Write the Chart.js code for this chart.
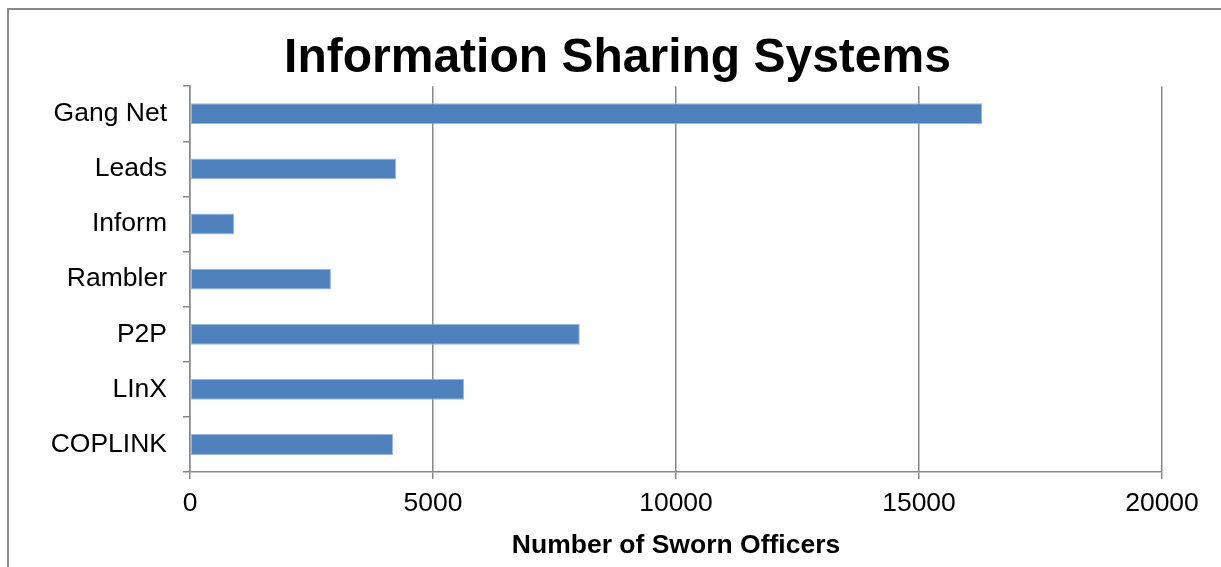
<!DOCTYPE html>
<html>
<head>
<meta charset="utf-8">
<script src="https://cdn.jsdelivr.net/npm/chart.js@4"></script>
<style>
  html, body { margin: 0; padding: 0; background: #fff; }
  #wrap { position: relative; width: 1221px; height: 567px; }
  canvas { display: block; }
</style>
</head>
<body>
<div id="wrap"><canvas id="c" width="1221" height="567"></canvas></div>
<script>
const categories = ["Gang Net", "Leads", "Inform", "Rambler", "P2P", "LInX", "COPLINK"];
const officers = [16300, 4240, 910, 2900, 8020, 5640, 4180];
const xTicks = [0, 5000, 10000, 15000, 20000];
const chartTitle = "Information Sharing Systems";
const xAxisTitle = "Number of Sworn Officers";

const GRID = '#878787';
const FONT = "'Liberation Sans', Arial, sans-serif";

const frame = {
  id: 'frame',
  beforeDraw(chart) {
    const ctx = chart.ctx;
    ctx.save();
    ctx.fillStyle = '#ffffff';
    ctx.fillRect(0, 0, chart.width, chart.height);
    ctx.strokeStyle = '#8a8a8a';
    ctx.lineWidth = 2;
    ctx.beginPath();
    ctx.moveTo(8, chart.height);
    ctx.lineTo(8, 9);
    ctx.lineTo(chart.width, 9);
    ctx.stroke();
    ctx.restore();
  }
};

new Chart(document.getElementById('c'), {
  type: 'bar',
  data: {
    labels: categories,
    datasets: [{
      data: officers,
      backgroundColor: '#4F81BD',
      borderColor: '#9bb7da',
      borderWidth: 1,
      borderSkipped: false,
      barPercentage: 0.38,
      categoryPercentage: 1
    }]
  },
  options: {
    indexAxis: 'y',
    responsive: false,
    animation: false,
    devicePixelRatio: 1,
    layout: { padding: { left: 14, right: 0, top: 0, bottom: 0 } },
    plugins: {
      legend: { display: false },
      tooltip: { enabled: false },
      title: {
        display: true,
        text: chartTitle,
        color: '#000',
        font: { family: FONT, size: 48, weight: 'bold', lineHeight: 1.15 },
        padding: { top: 31, bottom: 0 }
      }
    },
    scales: {
      x: {
        min: 0,
        max: 20000,
        afterBuildTicks(scale) { scale.ticks = xTicks.map(v => ({ value: v })); },
        afterFit(scale) { scale.height = 95; },
        grid: { color: GRID, lineWidth: 1.5, drawTicks: true, tickLength: 7, tickColor: GRID },
        border: { display: true, color: GRID, width: 1.5 },
        ticks: {
          color: '#000',
          font: { family: FONT, size: 26.5 },
          padding: 9,
          maxRotation: 0,
          callback: (v) => String(v)
        },
        title: {
          display: true,
          text: xAxisTitle,
          color: '#000',
          font: { family: FONT, size: 26.5, weight: 'bold', lineHeight: 1.2 },
          padding: { top: 0, bottom: 5 }
        }
      },
      y: {
        afterFit(scale) { scale.width = 176; },
        grid: { color: GRID, lineWidth: 1.5, drawOnChartArea: false, drawTicks: true, tickLength: 7, tickColor: GRID, offset: true },
        border: { display: true, color: GRID, width: 1.5 },
        ticks: {
          color: '#000',
          font: { family: FONT, size: 26.5 },
          padding: 16
        }
      },
      ySpacer: {
        type: 'category',
        axis: 'y',
        position: 'right',
        afterFit(scale) { scale.width = 59; },
        grid: { display: false, drawTicks: false },
        border: { display: false },
        ticks: { display: false }
      }
    }
  },
  plugins: [frame]
});
</script>
</body>
</html>
